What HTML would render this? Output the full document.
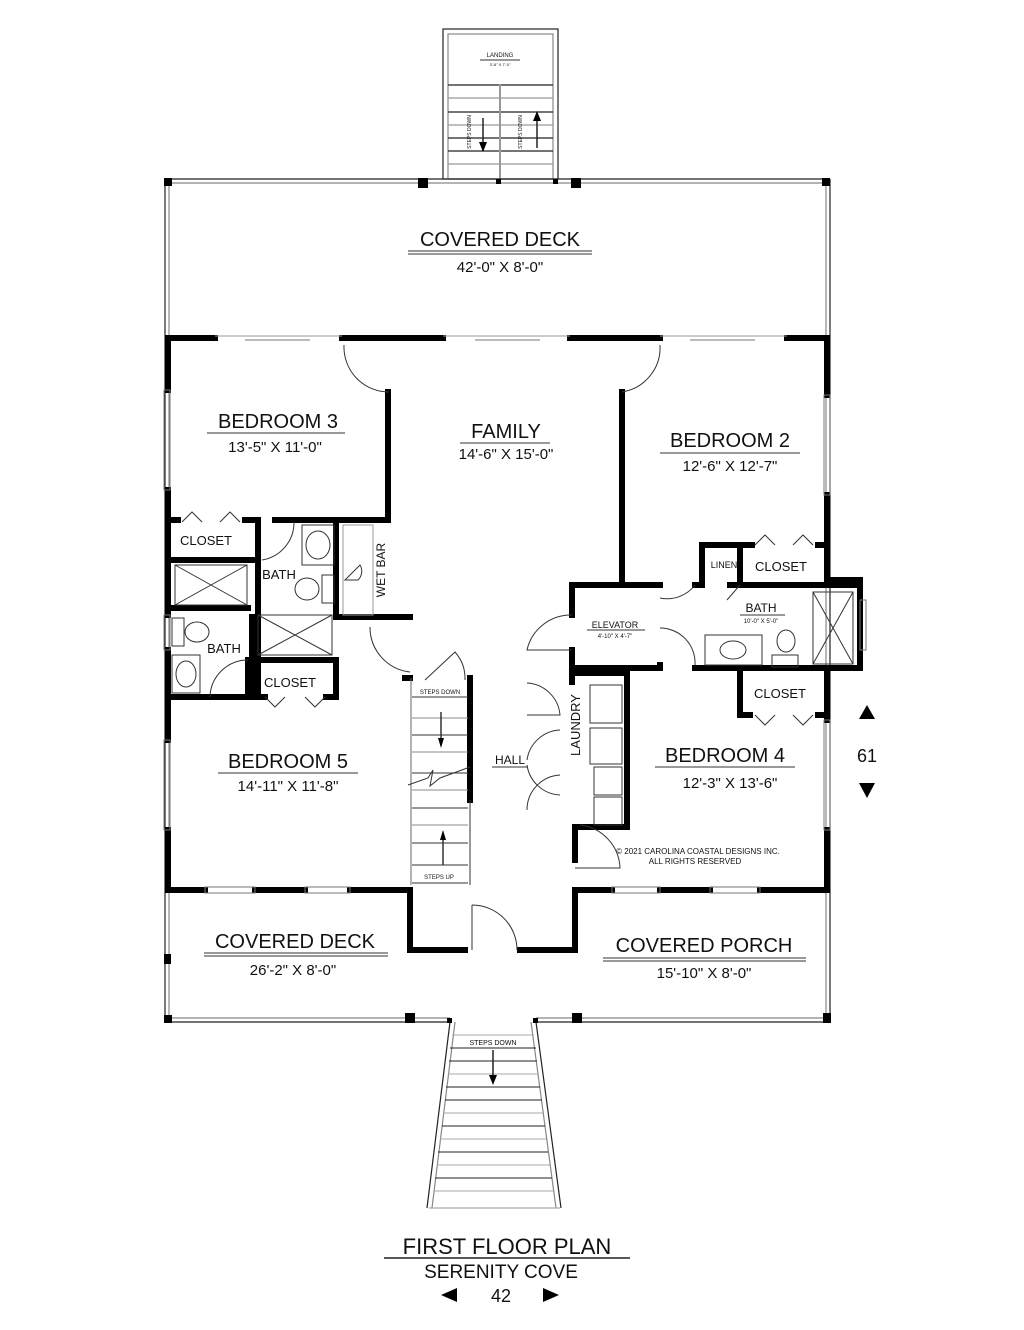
<!DOCTYPE html>
<html><head><meta charset="utf-8"><style>
html,body{margin:0;padding:0;background:#fff;}
svg{display:block;}
text{font-family:"Liberation Sans",sans-serif;fill:#111;}
</style></head><body>
<svg width="1024" height="1330" viewBox="0 0 1024 1330" xmlns="http://www.w3.org/2000/svg">
<g fill="none" stroke="#222" stroke-width="1.2">
  <rect x="443" y="29" width="115" height="150"/>
  <rect x="448" y="34" width="105" height="145" stroke="#888"/>
  <line x1="448" y1="85" x2="553" y2="85"/>
  <line x1="448" y1="98" x2="553" y2="98" stroke="#999"/>
  <line x1="448" y1="112" x2="553" y2="112"/>
  <line x1="448" y1="125" x2="553" y2="125" stroke="#999"/>
  <line x1="448" y1="138" x2="553" y2="138"/>
  <line x1="448" y1="151" x2="553" y2="151"/>
  <line x1="448" y1="164" x2="553" y2="164" stroke="#999"/>
  <line x1="500" y1="84" x2="500" y2="180" stroke="#999" stroke-width="2"/>
  <line x1="483" y1="118" x2="483" y2="150" stroke-width="1.5"/>
  <line x1="537" y1="115" x2="537" y2="148" stroke-width="1.5"/>
  <line x1="165" y1="179" x2="830" y2="179"/>
  <line x1="165" y1="183" x2="830" y2="183" stroke="#888"/>
  <line x1="165" y1="179" x2="165" y2="1022"/>
  <line x1="169" y1="183" x2="169" y2="1018" stroke="#888"/>
  <line x1="830" y1="179" x2="830" y2="1022"/>
  <line x1="826" y1="183" x2="826" y2="1018" stroke="#888"/>
  <line x1="165" y1="1022" x2="450" y2="1022"/>
  <line x1="169" y1="1018" x2="450" y2="1018" stroke="#888"/>
  <line x1="536" y1="1022" x2="830" y2="1022"/>
  <line x1="536" y1="1018" x2="826" y2="1018" stroke="#888"/>
  <polyline points="450,1022 427,1208"/>
  <polyline points="455,1022 432,1208" stroke="#888"/>
  <polyline points="536,1022 561,1208"/>
  <polyline points="531,1022 556,1208" stroke="#888"/>
  <line x1="429" y1="1208" x2="560" y2="1208" stroke="#aaa"/>
</g>
<g stroke="#222" stroke-width="1">
  <line x1="452" y1="1035" x2="534" y2="1035" stroke="#aaa"/>
  <line x1="450" y1="1048" x2="536" y2="1048"/>
  <line x1="449" y1="1061" x2="537" y2="1061"/>
  <line x1="448" y1="1074" x2="539" y2="1074" stroke="#aaa"/>
  <line x1="446" y1="1087" x2="540" y2="1087"/>
  <line x1="445" y1="1100" x2="542" y2="1100"/>
  <line x1="443" y1="1113" x2="543" y2="1113" stroke="#aaa"/>
  <line x1="442" y1="1126" x2="545" y2="1126"/>
  <line x1="440" y1="1139" x2="546" y2="1139" stroke="#aaa"/>
  <line x1="438" y1="1152" x2="548" y2="1152"/>
  <line x1="437" y1="1165" x2="550" y2="1165" stroke="#aaa"/>
  <line x1="435" y1="1178" x2="552" y2="1178"/>
  <line x1="434" y1="1191" x2="553" y2="1191" stroke="#aaa"/>
  <line x1="493" y1="1050" x2="493" y2="1080" stroke-width="1.5"/>
</g>
<g fill="#000">
  <rect x="164" y="178" width="8" height="8"/><rect x="418" y="178" width="10" height="10"/>
  <rect x="496" y="179" width="5" height="5"/><rect x="553" y="179" width="5" height="5"/>
  <rect x="571" y="178" width="10" height="10"/><rect x="822" y="178" width="8" height="8"/>
  <rect x="164" y="954" width="7" height="10"/>
  <rect x="164" y="1015" width="8" height="8"/><rect x="405" y="1013" width="10" height="10"/>
  <rect x="572" y="1013" width="10" height="10"/><rect x="823" y="1013" width="8" height="10"/>
  <rect x="447" y="1018" width="5" height="5"/><rect x="533" y="1018" width="5" height="5"/>
  <polygon points="479,142 487,142 483,152"/><polygon points="533,121 541,121 537,111"/>
  <polygon points="489,1075 497,1075 493,1085"/>
</g>
<g fill="none" stroke="#000" stroke-width="6" stroke-linecap="square">
  <polyline points="168,338 215,338"/>
  <polyline points="342,338 443,338"/>
  <polyline points="570,338 660,338"/>
  <polyline points="787,338 827,338 827,395"/>
  <polyline points="827,495 827,580 860,580 860,668 827,668 827,720"/>
  <polyline points="168,338 168,390"/>
  <polyline points="168,490 168,615"/>
  <polyline points="168,650 168,740"/>
  <polyline points="168,830 168,890 205,890"/>
  <polyline points="255,890 305,890"/>
  <polyline points="350,890 410,890 410,950 465,950"/>
  <polyline points="520,950 575,950 575,890 612,890"/>
  <polyline points="660,890 710,890"/>
  <polyline points="760,890 827,890 827,830"/>
  <polyline points="388,392 388,520 275,520"/>
  <polyline points="172,520 178,520"/>
  <polyline points="245,520 258,520 258,697"/>
  <polyline points="168,560 258,560"/>
  <polyline points="168,608 248,608"/>
  <polyline points="336,522 336,617 410,617"/>
  <polyline points="252,617 252,697 172,697"/>
  <polyline points="252,660 336,660 336,697 326,697"/>
  <polyline points="262,697 265,697"/>
  <polyline points="248,660 248,697"/>
  <polyline points="622,392 622,585"/>
  <polyline points="572,585 660,585"/>
  <polyline points="572,585 572,615"/>
  <polyline points="572,650 572,668 660,668 660,665"/>
  <polyline points="695,585 702,585 702,545 740,545 740,585"/>
  <polyline points="740,545 752,545"/>
  <polyline points="818,545 827,545"/>
  <polyline points="730,585 860,585"/>
  <polyline points="695,668 860,668"/>
  <polyline points="740,668 740,715 750,715"/>
  <polyline points="818,715 827,715"/>
  <polyline points="572,673 627,673 627,827 575,827 575,860"/>
  <polyline points="572,673 572,682"/>
  <polyline points="627,668 627,673"/>
  <polyline points="470,678 470,800"/>
  <polyline points="405,678 410,678"/>
</g>
<g fill="none" stroke="#333" stroke-width="1">
  <line x1="215" y1="336" x2="342" y2="336" stroke="#999"/><line x1="245" y1="340" x2="310" y2="340" stroke="#777"/>
  <line x1="443" y1="336" x2="570" y2="336" stroke="#999"/><line x1="475" y1="340" x2="540" y2="340" stroke="#777"/>
  <line x1="660" y1="336" x2="787" y2="336" stroke="#999"/><line x1="690" y1="340" x2="755" y2="340" stroke="#777"/>
  <rect x="164" y="390" width="6" height="100" stroke="#777"/>
  <rect x="164" y="615" width="6" height="35" stroke="#777"/>
  <rect x="164" y="740" width="6" height="90" stroke="#777"/>
  <rect x="824" y="395" width="6" height="100" stroke="#777"/>
  <rect x="824" y="720" width="6" height="110" stroke="#777"/>
  <rect x="860" y="600" width="6" height="50" stroke="#777"/>
  <rect x="205" y="887" width="50" height="6" stroke="#777"/>
  <rect x="305" y="887" width="45" height="6" stroke="#777"/>
  <rect x="612" y="887" width="48" height="6" stroke="#777"/>
  <rect x="710" y="887" width="50" height="6" stroke="#777"/>
  <path d="M344,345 A45,45 0 0 0 389,392"/>
  <path d="M660,345 A45,45 0 0 1 622,392"/>
  <path d="M370,627 A45,45 0 0 0 410,672"/>
  <path d="M572,615 A45,45 0 0 0 527,650 L572,650"/>
  <path d="M660,598 A35,35 0 0 0 695,585"/>
  <path d="M660,628 A35,35 0 0 1 695,665"/>
  <path d="M294,522 A38,38 0 0 1 262,560"/>
  <path d="M248,660 A38,38 0 0 0 210,697"/>
  <path d="M580,825 A45,45 0 0 1 620,868 L575,868"/>
  <path d="M472,905 A45,45 0 0 1 517,950"/>
  <line x1="472" y1="905" x2="472" y2="950"/>
  <path d="M527,683 A35,35 0 0 1 560,715 L527,715"/>
  <path d="M527,760 A35,35 0 0 1 560,730"/>
  <path d="M527,765 A35,35 0 0 0 560,795"/>
  <path d="M527,810 A35,35 0 0 1 560,775"/>
  <path d="M425,680 L455,652 A40,40 0 0 1 465,680"/>
  <polyline points="182,522 192,512 202,522"/><polyline points="220,522 230,512 240,522"/>
  <polyline points="265,697 275,707 285,697"/><polyline points="305,697 315,707 325,697"/>
  <polyline points="755,545 765,535 775,545"/><polyline points="793,545 803,535 813,545"/>
  <polyline points="755,715 765,725 775,715"/><polyline points="793,715 803,725 813,715"/>
  <rect x="175" y="565" width="72" height="40"/><line x1="175" y1="565" x2="247" y2="605"/><line x1="247" y1="565" x2="175" y2="605"/>
  <rect x="258" y="615" width="74" height="40"/><line x1="258" y1="615" x2="332" y2="655"/><line x1="332" y1="615" x2="258" y2="655"/>
  <rect x="813" y="592" width="40" height="72"/><line x1="813" y1="592" x2="853" y2="664"/><line x1="853" y1="592" x2="813" y2="664"/>
  <rect x="302" y="525" width="32" height="40"/><ellipse cx="318" cy="545" rx="12" ry="14"/>
  <ellipse cx="307" cy="589" rx="12" ry="11"/><rect x="322" y="575" width="12" height="28"/>
  <ellipse cx="197" cy="632" rx="12" ry="10"/><rect x="172" y="618" width="12" height="28"/>
  <rect x="172" y="655" width="28" height="38"/><ellipse cx="186" cy="674" rx="10" ry="13"/>
  <rect x="343" y="525" width="30" height="90" stroke="#999"/>
  <path d="M345,580 L360,565 A12,12 0 0 1 358,580 Z"/>
  <rect x="705" y="635" width="57" height="30"/><ellipse cx="733" cy="650" rx="13" ry="9"/>
  <ellipse cx="786" cy="641" rx="9" ry="11"/><rect x="772" y="655" width="26" height="12"/>
  <line x1="740" y1="585" x2="727" y2="600"/>
  <rect x="590" y="685" width="32" height="38"/><rect x="590" y="728" width="32" height="36"/>
  <rect x="594" y="767" width="28" height="28"/><rect x="594" y="797" width="28" height="28"/>
  <line x1="412" y1="697" x2="468" y2="697"/>
  <line x1="412" y1="718" x2="468" y2="718" stroke="#888"/>
  <line x1="412" y1="735" x2="468" y2="735"/>
  <line x1="412" y1="752" x2="468" y2="752" stroke="#888"/>
  <line x1="412" y1="773" x2="468" y2="773"/>
  <line x1="412" y1="790" x2="468" y2="790" stroke="#888"/>
  <line x1="412" y1="808" x2="468" y2="808"/>
  <line x1="412" y1="825" x2="468" y2="825" stroke="#888"/>
  <line x1="412" y1="843" x2="468" y2="843"/>
  <line x1="412" y1="865" x2="468" y2="865"/>
  <line x1="412" y1="883" x2="468" y2="883"/>
  <line x1="411" y1="678" x2="411" y2="885" stroke="#666"/>
  <line x1="470" y1="800" x2="470" y2="885"/>
  <polyline points="408,785 428,778 433,770 430,786 440,778 470,767" />
  <line x1="441" y1="712" x2="441" y2="742" stroke-width="1.5"/>
  <line x1="443" y1="835" x2="443" y2="865" stroke-width="1.5"/>
</g>
<g fill="#000">
  <polygon points="438,738 444,738 441,748"/><polygon points="440,840 446,840 443,830"/>
  <polygon points="859,719 875,719 867,705"/><polygon points="859,783 875,783 867,798"/>
  <polygon points="543,1288 543,1302 559,1295"/>
  <polygon points="457,1288 457,1302 441,1295"/>
</g>
<g text-anchor="middle">
  <text x="500" y="57" font-size="6">LANDING</text>
  <line x1="480" y1="60" x2="520" y2="60" stroke="#333"/>
  <text x="500" y="66" font-size="4">3'-8" X 7'-0"</text>
  <text x="500" y="246" font-size="20">COVERED DECK</text>
  <line x1="408" y1="251" x2="592" y2="251" stroke="#333"/><line x1="408" y1="254" x2="592" y2="254" stroke="#333"/>
  <text x="500" y="272" font-size="15">42'-0" X 8'-0"</text>
  <text x="278" y="428" font-size="20">BEDROOM 3</text>
  <line x1="207" y1="433" x2="345" y2="433" stroke="#333"/>
  <text x="275" y="452" font-size="15">13'-5" X 11'-0"</text>
  <text x="506" y="438" font-size="20">FAMILY</text>
  <line x1="460" y1="443" x2="550" y2="443" stroke="#333"/>
  <text x="506" y="459" font-size="15">14'-6" X 15'-0"</text>
  <text x="730" y="447" font-size="20">BEDROOM 2</text>
  <line x1="660" y1="453" x2="800" y2="453" stroke="#333"/>
  <text x="730" y="471" font-size="15">12'-6" X 12'-7"</text>
  <text x="206" y="545" font-size="13">CLOSET</text>
  <text x="279" y="579" font-size="13">BATH</text>
  <text x="224" y="653" font-size="13">BATH</text>
  <text x="290" y="687" font-size="13">CLOSET</text>
  <text x="385" y="570" font-size="12" transform="rotate(-90 385 570)">WET BAR</text>
  <text x="724" y="568" font-size="9">LINEN</text>
  <text x="781" y="571" font-size="13">CLOSET</text>
  <text x="761" y="612" font-size="12">BATH</text>
  <line x1="740" y1="615" x2="785" y2="615" stroke="#333"/>
  <text x="761" y="623" font-size="6">10'-0" X 5'-0"</text>
  <text x="615" y="628" font-size="9">ELEVATOR</text>
  <line x1="587" y1="630" x2="645" y2="630" stroke="#333"/>
  <text x="615" y="638" font-size="6">4'-10" X 4'-7"</text>
  <text x="780" y="698" font-size="13">CLOSET</text>
  <text x="580" y="725" font-size="13" transform="rotate(-90 580 725)">LAUNDRY</text>
  <text x="510" y="764" font-size="12">HALL</text>
  <line x1="492" y1="767" x2="528" y2="767" stroke="#333"/>
  <text x="440" y="694" font-size="6">STEPS DOWN</text>
  <text x="439" y="879" font-size="6">STEPS UP</text>
  <text x="288" y="768" font-size="20">BEDROOM 5</text>
  <line x1="218" y1="773" x2="358" y2="773" stroke="#333"/>
  <text x="288" y="791" font-size="15">14'-11" X 11'-8"</text>
  <text x="725" y="762" font-size="20">BEDROOM 4</text>
  <line x1="655" y1="767" x2="795" y2="767" stroke="#333"/>
  <text x="730" y="788" font-size="15">12'-3" X 13'-6"</text>
  <text x="698" y="854" font-size="8">© 2021 CAROLINA COASTAL DESIGNS INC.</text>
  <text x="695" y="864" font-size="8">ALL RIGHTS RESERVED</text>
  <text x="295" y="948" font-size="20">COVERED DECK</text>
  <line x1="204" y1="953" x2="388" y2="953" stroke="#333"/><line x1="204" y1="956" x2="388" y2="956" stroke="#333"/>
  <text x="293" y="975" font-size="15">26'-2" X 8'-0"</text>
  <text x="704" y="952" font-size="20">COVERED PORCH</text>
  <line x1="603" y1="958" x2="806" y2="958" stroke="#333"/><line x1="603" y1="961" x2="806" y2="961" stroke="#333"/>
  <text x="704" y="978" font-size="15">15'-10" X 8'-0"</text>
  <text x="493" y="1045" font-size="7">STEPS DOWN</text>
  <text x="867" y="762" font-size="18">61</text>
  <text x="507" y="1254" font-size="22">FIRST FLOOR PLAN</text>
  <line x1="384" y1="1258" x2="630" y2="1258" stroke="#222" stroke-width="1.5"/>
  <text x="501" y="1278" font-size="19">SERENITY COVE</text>
  <text x="501" y="1302" font-size="18">42</text>
</g>
<text x="471" y="132" font-size="5" transform="rotate(-90 471 132)" text-anchor="middle">STEPS DOWN</text>
<text x="522" y="132" font-size="5" transform="rotate(-90 522 132)" text-anchor="middle">STEPS DOWN</text>
</svg>
</body></html>
